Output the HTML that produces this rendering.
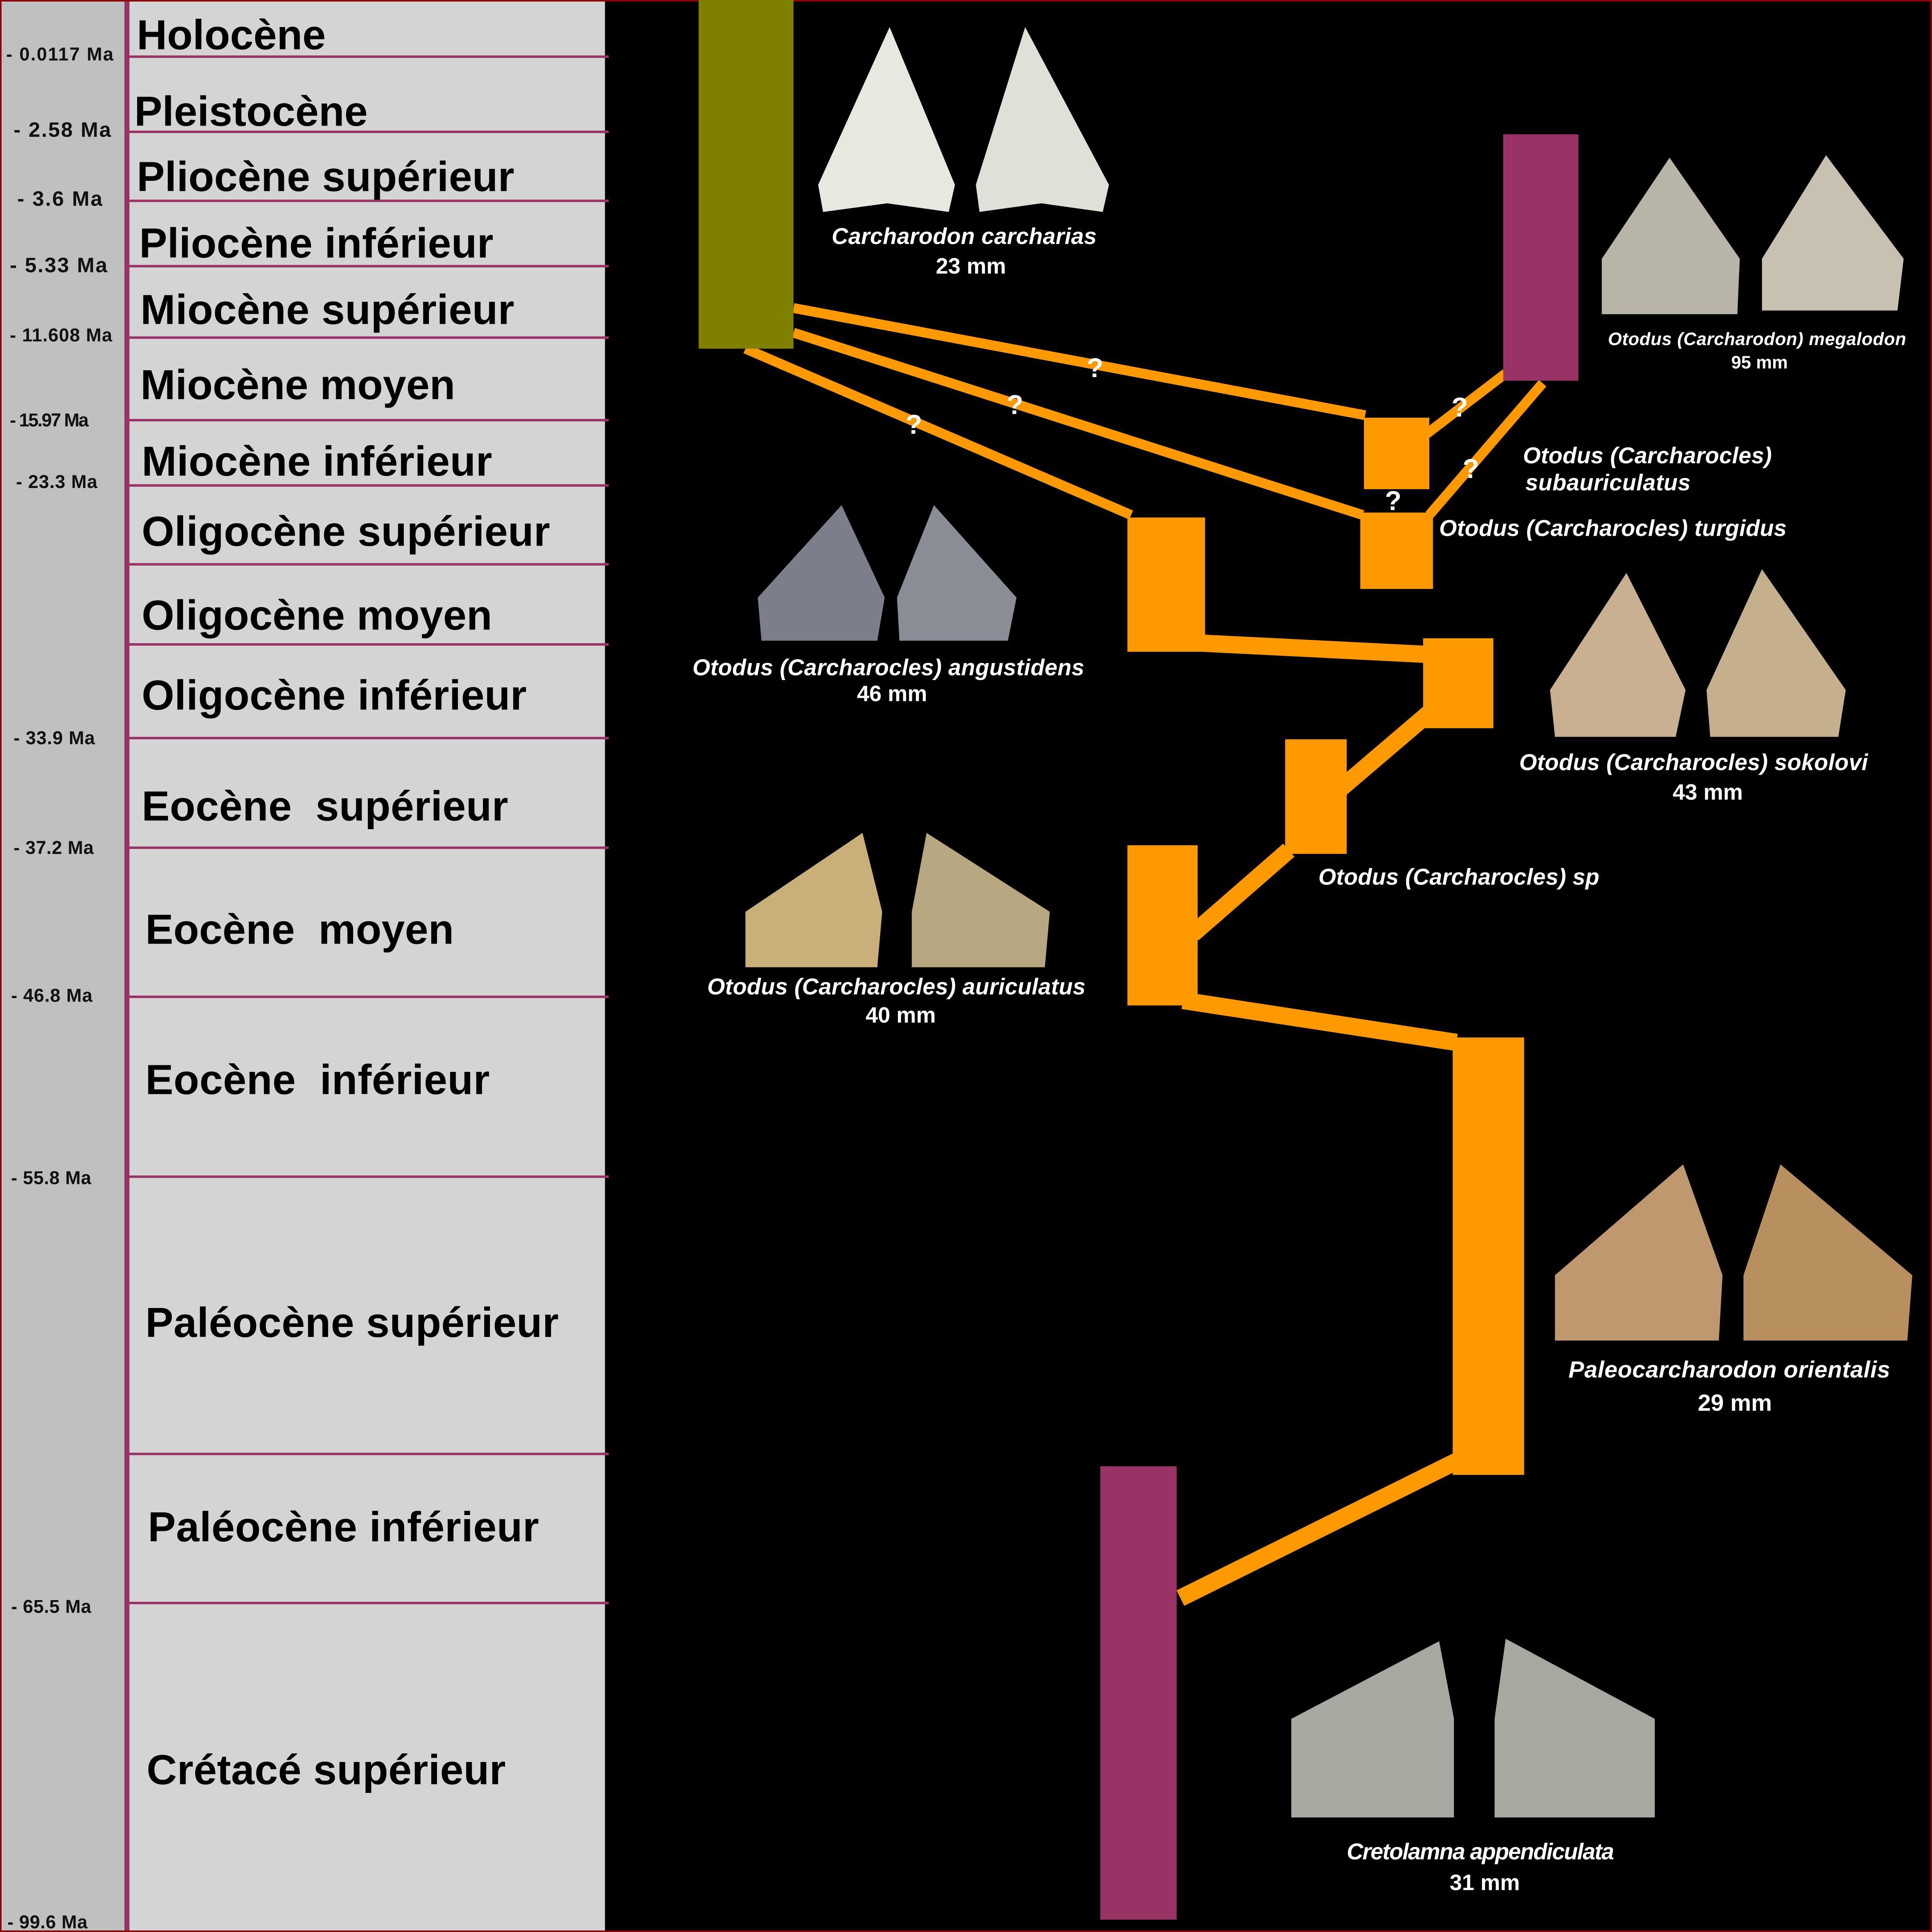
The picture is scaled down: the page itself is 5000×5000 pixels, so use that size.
<!DOCTYPE html>
<html><head><meta charset="utf-8"><style>
html,body{margin:0;padding:0;background:#000}
svg{display:block}
text{font-family:"Liberation Sans",Arial,sans-serif;font-weight:bold}
.ma{font-size:15px;fill:#111}
.per{font-size:34px;fill:#000;letter-spacing:0.6px}
.lab{font-size:18.5px;fill:#fff;font-style:italic}
.mm{font-size:18px;fill:#fff}
.q{font-size:22px;fill:#fff}
</style></head><body>
<svg width="5000" height="5000" viewBox="0 0 1568 1568" xmlns="http://www.w3.org/2000/svg">
<rect x="0" y="0" width="1568" height="1568" fill="#000"/>
<rect x="0" y="0" width="101" height="1568" fill="#c0c0c0"/>
<rect x="105" y="0" width="386" height="1568" fill="#d4d4d4"/>
<rect x="101" y="0" width="4" height="1568" fill="#993366"/>
<rect x="0.5" y="0.5" width="1567" height="1567" fill="none" stroke="#8b0000" stroke-width="1.5"/>
<g fill="#993366">
<rect x="105" y="45" width="389" height="2"/>
<rect x="105" y="106" width="389" height="2"/>
<rect x="105" y="162" width="389" height="2"/>
<rect x="105" y="215" width="389" height="2"/>
<rect x="105" y="273" width="389" height="2"/>
<rect x="105" y="340" width="389" height="2"/>
<rect x="105" y="393" width="389" height="2"/>
<rect x="105" y="457" width="389" height="2"/>
<rect x="105" y="522" width="389" height="2"/>
<rect x="105" y="598" width="389" height="2"/>
<rect x="105" y="687" width="389" height="2"/>
<rect x="105" y="808" width="389" height="2"/>
<rect x="105" y="954" width="389" height="2"/>
<rect x="105" y="1179" width="389" height="2"/>
<rect x="105" y="1300" width="389" height="2"/>
</g>
<text x="5" y="49" class="ma" textLength="87">- 0.0117 Ma</text>
<text x="11" y="111" class="ma" style="font-size:17px" textLength="79">- 2.58 Ma</text>
<text x="14" y="167" class="ma" style="font-size:17px" textLength="69">- 3.6 Ma</text>
<text x="8" y="221" class="ma" style="font-size:17px" textLength="79">- 5.33 Ma</text>
<text x="8" y="277" class="ma" textLength="83">- 11.608 Ma</text>
<text x="8" y="346" class="ma" textLength="64">- 15.97 Ma</text>
<text x="13" y="396" class="ma" textLength="66">- 23.3 Ma</text>
<text x="11" y="604" class="ma" textLength="66">- 33.9 Ma</text>
<text x="11" y="693" class="ma" textLength="65">- 37.2 Ma</text>
<text x="9" y="813" class="ma" textLength="66">- 46.8 Ma</text>
<text x="9" y="961" class="ma" textLength="65">- 55.8 Ma</text>
<text x="9" y="1309" class="ma" textLength="65">- 65.5 Ma</text>
<text x="6" y="1565" class="ma" textLength="65">- 99.6 Ma</text>

<text x="111" y="40" class="per" textLength="154">Holocène</text>
<text x="109" y="102" class="per" textLength="190">Pleistocène</text>
<text x="111" y="155" class="per" textLength="307">Pliocène supérieur</text>
<text x="113" y="209" class="per" textLength="288">Pliocène inférieur</text>
<text x="114" y="263" class="per" textLength="304">Miocène supérieur</text>
<text x="114" y="324" class="per" textLength="256">Miocène moyen</text>
<text x="115" y="386" class="per" textLength="285">Miocène inférieur</text>
<text x="115" y="443" class="per" textLength="332">Oligocène supérieur</text>
<text x="115" y="511" class="per" textLength="285">Oligocène moyen</text>
<text x="115" y="576" class="per" textLength="313">Oligocène inférieur</text>
<text x="115" y="666" class="per" xml:space="preserve" textLength="298">Eocène  supérieur</text>
<text x="118" y="766" class="per" xml:space="preserve" textLength="251">Eocène  moyen</text>
<text x="118" y="888" class="per" xml:space="preserve" textLength="280">Eocène  inférieur</text>
<text x="118" y="1085" class="per" textLength="336">Paléocène supérieur</text>
<text x="120" y="1251" class="per" textLength="318">Paléocène inférieur</text>
<text x="119" y="1448" class="per" textLength="292">Crétacé supérieur</text>

<g stroke="#ff9900" stroke-linecap="butt" fill="none">
<line x1="644" y1="250" x2="1108" y2="337" stroke-width="8"/>
<line x1="644" y1="270" x2="1106" y2="418" stroke-width="8"/>
<line x1="605" y1="283" x2="918" y2="418" stroke-width="8"/>
<line x1="1158" y1="352" x2="1222" y2="303" stroke-width="8"/>
<line x1="1160" y1="418" x2="1252" y2="311" stroke-width="8"/>
<line x1="976" y1="522" x2="1156" y2="531" stroke-width="14"/>
<line x1="1088" y1="640" x2="1170" y2="570" stroke-width="14"/>
<line x1="968" y1="758" x2="1046" y2="690" stroke-width="14"/>
<line x1="960" y1="812" x2="1182" y2="846" stroke-width="14"/>
<line x1="958" y1="1297" x2="1182" y2="1186" stroke-width="14"/>
</g>
<rect x="567" y="0" width="77" height="283" fill="#808000"/>
<rect x="1220" y="109" width="61" height="200" fill="#993366"/>
<rect x="893" y="1190" width="62" height="368" fill="#993366"/>
<g fill="#ff9900">
<rect x="1107" y="339" width="53" height="58"/>
<rect x="1104" y="416" width="59" height="62"/>
<rect x="915" y="420" width="63" height="109"/>
<rect x="1155" y="518" width="57" height="73"/>
<rect x="1043" y="600" width="50" height="93"/>
<rect x="915" y="686" width="57" height="130"/>
<rect x="1179" y="842" width="58" height="355"/>
</g>
<text x="882" y="306" class="q">?</text>
<text x="817" y="336" class="q">?</text>
<text x="735" y="352" class="q">?</text>
<text x="1178" y="338" class="q">?</text>
<text x="1187" y="388" class="q">?</text>
<text x="1124" y="414" class="q">?</text>

<g>
<path d="M664,150 L722,22 L775,150 L770,172 L720,165 L668,172Z" fill="#e8e8e0"/>
<path d="M792,150 L832,22 L900,150 L895,172 L845,165 L795,172Z" fill="#e0e0d8"/>
<path d="M1300,210 L1355,128 L1412,210 L1410,255 L1300,255Z" fill="#b8b4a8"/>
<path d="M1430,210 L1482,126 L1545,210 L1540,252 L1430,252Z" fill="#c8c0b0"/>
<path d="M615,485 L683,410 L718,485 L712,520 L618,520Z" fill="#7c7e8c"/>
<path d="M728,485 L758,410 L825,485 L818,520 L730,520Z" fill="#8a8c96"/>
<path d="M1258,560 L1320,465 L1368,560 L1360,598 L1262,598Z" fill="#c8b090"/>
<path d="M1385,560 L1430,462 L1498,560 L1492,598 L1388,598Z" fill="#c4b08c"/>
<path d="M605,740 L700,676 L716,740 L712,785 L605,785Z" fill="#c8b078"/>
<path d="M740,740 L752,676 L852,740 L848,785 L740,785Z" fill="#b8a880"/>
<path d="M1262,1035 L1366,945 L1398,1035 L1395,1088 L1262,1088Z" fill="#c09870"/>
<path d="M1415,1035 L1445,945 L1552,1035 L1548,1088 L1415,1088Z" fill="#b89060"/>
<path d="M1048,1395 L1168,1332 L1180,1395 L1180,1475 L1048,1475Z" fill="#a8a8a0"/>
<path d="M1213,1395 L1222,1330 L1343,1395 L1343,1475 L1213,1475Z" fill="#a8a8a0"/>
</g>

<text x="675" y="198" class="lab" textLength="215">Carcharodon carcharias</text>
<text x="788" y="222" class="mm" text-anchor="middle">23 mm</text>
<text x="1305" y="280" class="lab" style="font-size:14.5px" textLength="242">Otodus (Carcharodon) megalodon</text>
<text x="1428" y="299" class="mm" text-anchor="middle" style="font-size:14.5px">95 mm</text>
<text x="1236" y="376" class="lab" textLength="202">Otodus (Carcharocles)</text>
<text x="1238" y="398" class="lab" textLength="134">subauriculatus</text>
<text x="1168" y="435" class="lab" textLength="282">Otodus (Carcharocles) turgidus</text>
<text x="562" y="548" class="lab" textLength="318">Otodus (Carcharocles) angustidens</text>
<text x="724" y="569" class="mm" text-anchor="middle">46 mm</text>
<text x="1233" y="625" class="lab" textLength="283">Otodus (Carcharocles) sokolovi</text>
<text x="1386" y="649" class="mm" text-anchor="middle">43 mm</text>
<text x="1070" y="718" class="lab" textLength="228">Otodus (Carcharocles) sp</text>
<text x="574" y="807" class="lab" textLength="307">Otodus (Carcharocles) auriculatus</text>
<text x="731" y="830" class="mm" text-anchor="middle">40 mm</text>
<text x="1273" y="1118" class="lab" style="font-size:19px" textLength="261">Paleocarcharodon orientalis</text>
<text x="1408" y="1145" class="mm" text-anchor="middle" style="font-size:19px">29 mm</text>
<text x="1093" y="1509" class="lab" textLength="217">Cretolamna appendiculata</text>
<text x="1205" y="1534" class="mm" text-anchor="middle">31 mm</text>
</svg>
</body></html>
